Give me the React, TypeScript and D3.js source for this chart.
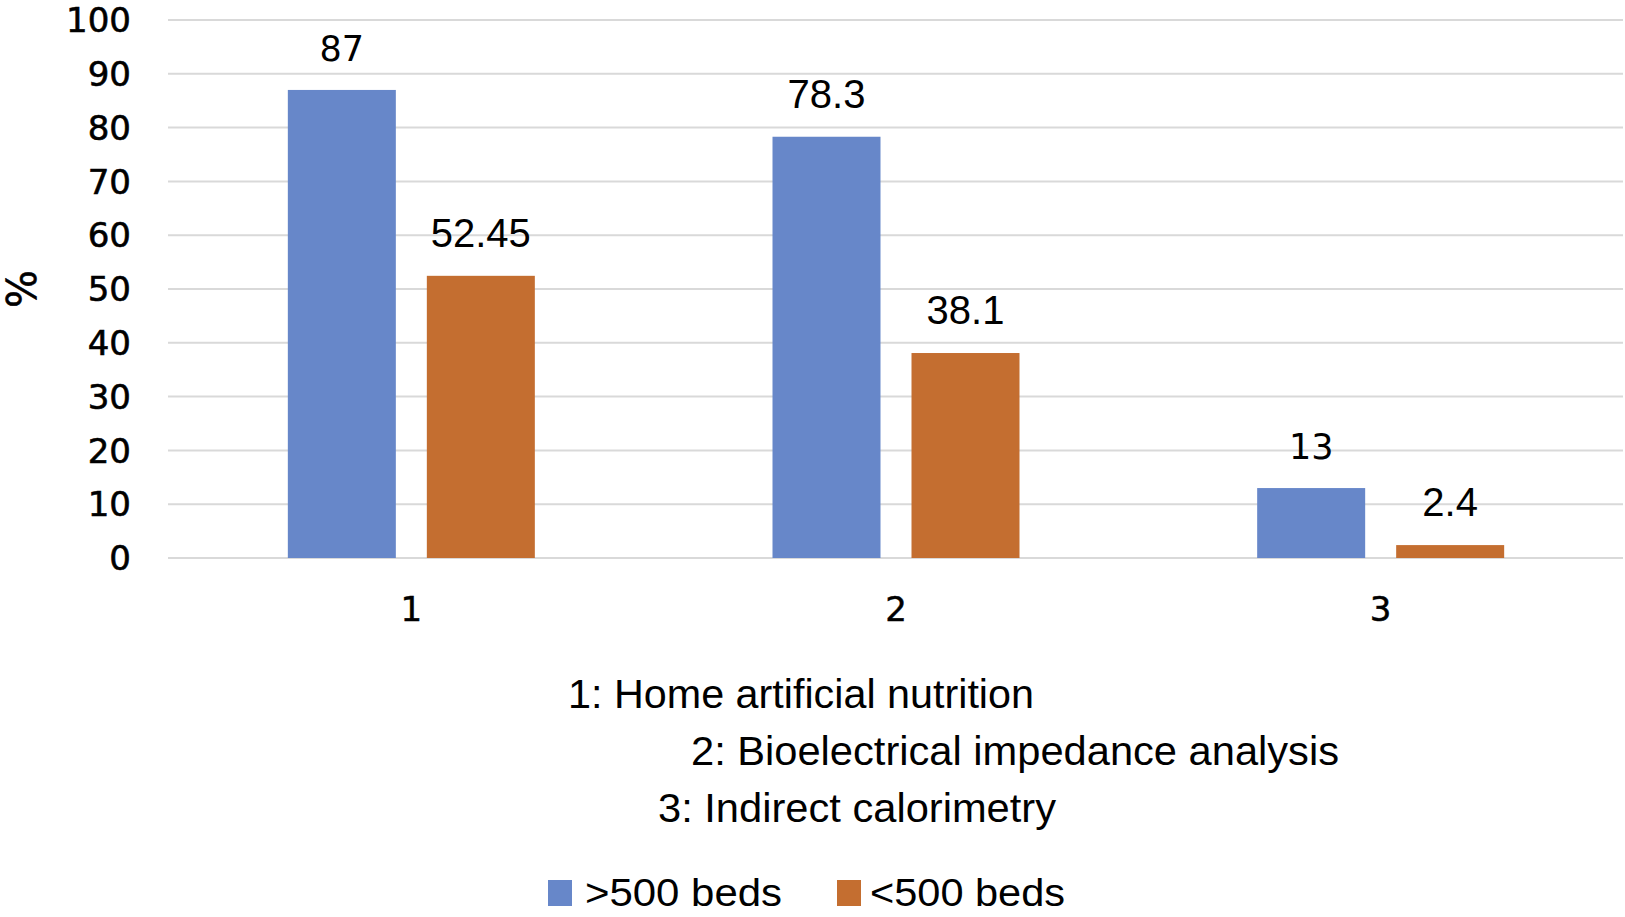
import * as d3 from "d3";

const categories = ["1", "2", "3"];
const seriesNames = [">500 beds", "<500 beds"];
const largeHospitals = [87, 78.3, 13];
const smallHospitals = [52.45, 38.1, 2.4];
const yTicks = [0, 10, 20, 30, 40, 50, 60, 70, 80, 90, 100];
const categoryNotes = [
  "1: Home artificial nutrition",
  "2: Bioelectrical impedance analysis",
  "3: Indirect calorimetry",
];

const W = 1625;
const H = 917;
const colors = ["#6787C9", "#C46E30"];
const tickFont = "'DejaVu Sans', Verdana, sans-serif";
const textFont = "'Liberation Sans', Arial, sans-serif";

// where the caption lines sit (they are hand-placed in the source figure)
const noteLayout = [
  { x: 568, y: 708, w: 466 },
  { x: 691, y: 765, w: 648 },
  { x: 658, y: 822, w: 398 },
];
const legendLayout = [
  { x: 548, tx: 585, tw: 197 },
  { x: 837, tx: 870, tw: 195 },
];

export default function App() {
  const y = d3.scaleLinear().domain([0, 100]).range([558, 20]);
  const x0 = d3.scaleBand<string>().domain(categories).range([169, 1623]);
  const groupW = 247;
  const x1 = d3
    .scaleBand<number>()
    .domain([0, 1])
    .range([(x0.bandwidth() - groupW) / 2, (x0.bandwidth() + groupW) / 2])
    .paddingInner(0.223);

  const series = [largeHospitals, smallHospitals];

  return (
    <svg
      width={W}
      height={H}
      viewBox={`0 0 ${W} ${H}`}
      style={{ position: "absolute", left: 0, top: 0, background: "#fff" }}
    >
      <rect width={W} height={H} fill="#fff" />
      {yTicks.map((t) => (
        <g key={t}>
          <line x1={168} x2={1623} y1={y(t)} y2={y(t)} stroke="#d9d9d9" strokeWidth={2} />
          <text
            x={131}
            y={y(t)}
            dy="0.36em"
            textAnchor="end"
            fontFamily={tickFont}
            fontSize={34}
            fill="#000"
            stroke="#000"
            strokeWidth={0.6}
          >
            {t}
          </text>
        </g>
      ))}
      <text
        transform={`translate(36,${(y(0) + y(100)) / 2}) rotate(-90)`}
        textAnchor="middle"
        fontFamily={tickFont}
        fontSize={40}
        stroke="#000"
        strokeWidth={0.6}
      >
        %
      </text>

      {series.map((vals, si) =>
        vals.map((v, ci) => {
          const bx = (x0(categories[ci]) ?? 0) + (x1(si) ?? 0);
          const bw = x1.bandwidth();
          // whole-number labels were set in a Verdana-like face in the source
          const isInt = Number.isInteger(v);
          return (
            <g key={`${si}-${ci}`}>
              <rect x={bx} y={y(v)} width={bw} height={y(0) - y(v)} fill={colors[si]} />
              <text
                x={bx + bw / 2}
                y={y(v) - 29}
                textAnchor="middle"
                fontFamily={isInt ? tickFont : textFont}
                fontSize={isInt ? 35 : 40}
                fill="#000"
              >
                {String(v)}
              </text>
            </g>
          );
        })
      )}

      {categories.map((c) => (
        <text
          key={c}
          x={(x0(c) ?? 0) + x0.bandwidth() / 2}
          y={621}
          textAnchor="middle"
          fontFamily={tickFont}
          fontSize={34}
          stroke="#000"
          strokeWidth={0.5}
        >
          {c}
        </text>
      ))}

      {categoryNotes.map((n, i) => (
        <text
          key={n}
          x={noteLayout[i].x}
          y={noteLayout[i].y}
          fontFamily={textFont}
          fontSize={40}
          textLength={noteLayout[i].w}
          lengthAdjust="spacingAndGlyphs"
        >
          {n}
        </text>
      ))}

      {seriesNames.map((s, i) => (
        <g key={s}>
          <rect x={legendLayout[i].x} y={880} width={24} height={26} fill={colors[i]} />
          <text
            x={legendLayout[i].tx}
            y={906}
            fontFamily={textFont}
            fontSize={39}
            textLength={legendLayout[i].tw}
            lengthAdjust="spacingAndGlyphs"
          >
            {s}
          </text>
        </g>
      ))}
    </svg>
  );
}
